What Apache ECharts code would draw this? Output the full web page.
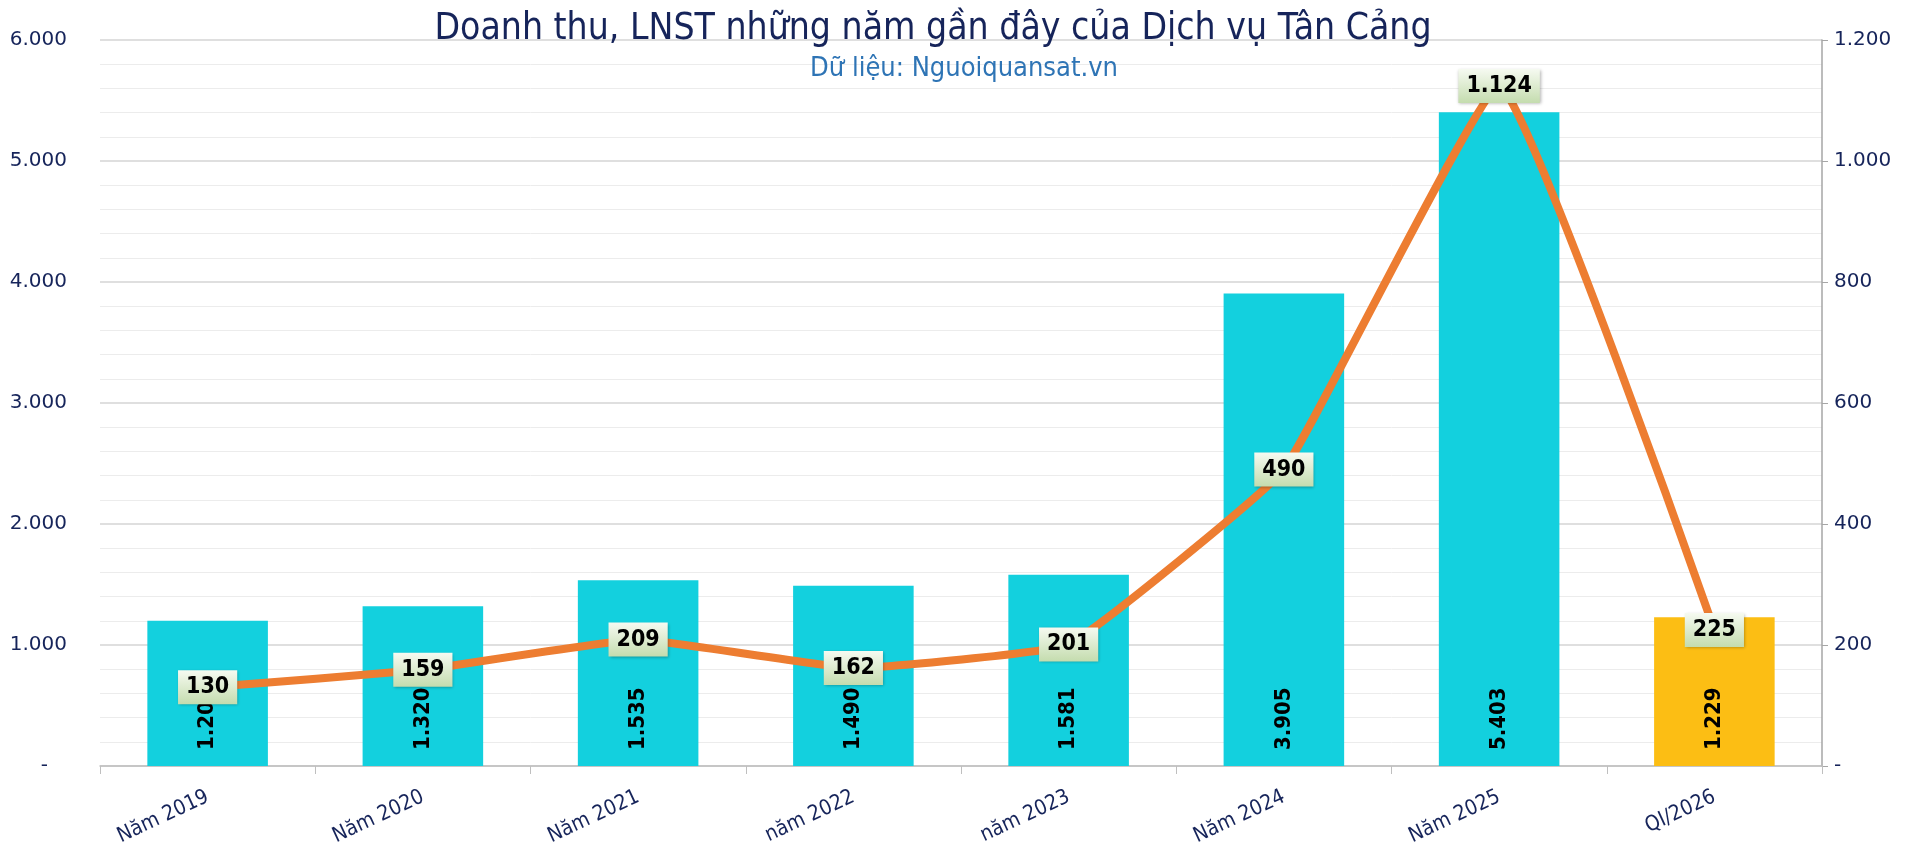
<!DOCTYPE html>
<html>
<head>
<meta charset="utf-8">
<title>Doanh thu, LNST Dịch vụ Tân Cảng</title>
<script src="https://cdn.jsdelivr.net/npm/echarts@6/dist/echarts.min.js"></script>
<style>
  html, body { margin: 0; padding: 0; background: #fff; }
  #main { width: 1920px; height: 854px; }
</style>
</head>
<body>
<div id="main"></div>
<script>
// du lieu
var categories = ['Năm 2019', 'Năm 2020', 'Năm 2021', 'năm 2022', 'năm 2023', 'Năm 2024', 'Năm 2025', 'QI/2026'];
var doanhThu = [1200, 1320, 1535, 1490, 1581, 3905, 5403, 1229];
var lnst = [130, 159, 209, 162, 201, 490, 1124, 225];
var barColors = ['#13d0de', '#13d0de', '#13d0de', '#13d0de', '#13d0de', '#13d0de', '#13d0de', '#fcbe14'];

var navy = '#16245a';

function fmt(v) {
  return String(v).replace(/\B(?=(\d{3})+(?!\d))/g, '.');
}

var chart = echarts.init(document.getElementById('main'));

var option = {
  animation: false,
  backgroundColor: '#fff',
  grid: { left: 100, right: 98, top: 40, bottom: 88, outerBoundsMode: 'none' },
  graphic: [
    {
      type: 'text', x: 933, y: 29, z: 10,
      style: {
        text: 'Doanh thu, LNST những năm gần đây của Dịch vụ Tân Cảng',
        font: '37px "DejaVu Sans Condensed", "DejaVu Sans"',
        fill: navy, align: 'center', verticalAlign: 'middle',
        textAlign: 'center', textVerticalAlign: 'middle'
      }
    },
    {
      type: 'text', x: 964, y: 69, z: 10,
      style: {
        text: 'Dữ liệu: Nguoiquansat.vn',
        font: '27px "DejaVu Sans Condensed", "DejaVu Sans"',
        fill: '#2e74b5', align: 'center', verticalAlign: 'middle',
        textAlign: 'center', textVerticalAlign: 'middle'
      }
    }
  ],
  xAxis: {
    type: 'category',
    data: categories,
    axisLine: { lineStyle: { color: '#bfbfbf', width: 1.5 } },
    axisTick: { show: true, length: 8, lineStyle: { color: '#bfbfbf' } },
    axisLabel: {
      rotate: 25,
      margin: 30,
      color: navy,
      fontSize: 21,
      fontFamily: '"DejaVu Sans Condensed", "DejaVu Sans"'
    }
  },
  yAxis: [
    {
      type: 'value',
      min: 0, max: 6000, interval: 1000,
      axisLine: { show: false },
      axisTick: { show: false },
      axisLabel: {
        margin: 33, color: navy, fontSize: 20, fontFamily: '"DejaVu Sans"',
        formatter: function (v) { return v === 0 ? '-   ' : fmt(v); }
      },
      splitLine: { lineStyle: { color: '#d4d4d4', width: 1.5 } },
      minorTick: { show: false, splitNumber: 5 },
      minorSplitLine: { show: true, lineStyle: { color: '#ececec' } }
    },
    {
      type: 'value',
      min: 0, max: 1200, interval: 200,
      axisLine: { show: true, lineStyle: { color: '#a6a6a6', width: 1.5 } },
      axisTick: { show: true, length: 6, lineStyle: { color: '#a6a6a6' } },
      axisLabel: {
        margin: 12, color: navy, fontSize: 20, fontFamily: '"DejaVu Sans"',
        formatter: function (v) { return v === 0 ? '-' : fmt(v); }
      },
      splitLine: { show: false }
    }
  ],
  series: [
    {
      name: 'Doanh thu',
      type: 'bar',
      data: doanhThu.map(function (v, i) {
        return { value: v, itemStyle: { color: barColors[i] } };
      }),
      barWidth: '56%',
      z: 2,
      label: {
        show: true,
        position: 'insideBottom',
        rotate: 90,
        align: 'left',
        verticalAlign: 'middle',
        distance: 16,
        color: '#000',
        fontSize: 22,
        fontWeight: 'bold',
        fontFamily: '"DejaVu Sans Condensed", "DejaVu Sans"',
        formatter: function (p) { return fmt(p.value); }
      }
    },
    {
      name: 'LNST',
      type: 'line',
      yAxisIndex: 1,
      data: lnst,
      z: 5,
      smooth: 0.1,
      symbol: 'circle',
      symbolSize: 2,
      itemStyle: { color: '#ed7d31' },
      lineStyle: { color: '#ed7d31', width: 8 },
      label: {
        show: true,
        position: 'inside',
        color: '#000',
        fontSize: 23,
        fontWeight: 'bold',
        fontFamily: '"DejaVu Sans Condensed", "DejaVu Sans"',
        padding: [6, 8, 5, 8],
        backgroundColor: new echarts.graphic.LinearGradient(0, 0, 0, 1, [
          { offset: 0, color: '#f6faf1' },
          { offset: 1, color: '#c4dcae' }
        ]),
        shadowColor: 'rgba(0,0,0,0.3)',
        shadowBlur: 3,
        shadowOffsetX: 1,
        shadowOffsetY: 1,
        formatter: function (p) { return fmt(p.value); }
      }
    }
  ]
};

chart.setOption(option);
</script>
</body>
</html>
